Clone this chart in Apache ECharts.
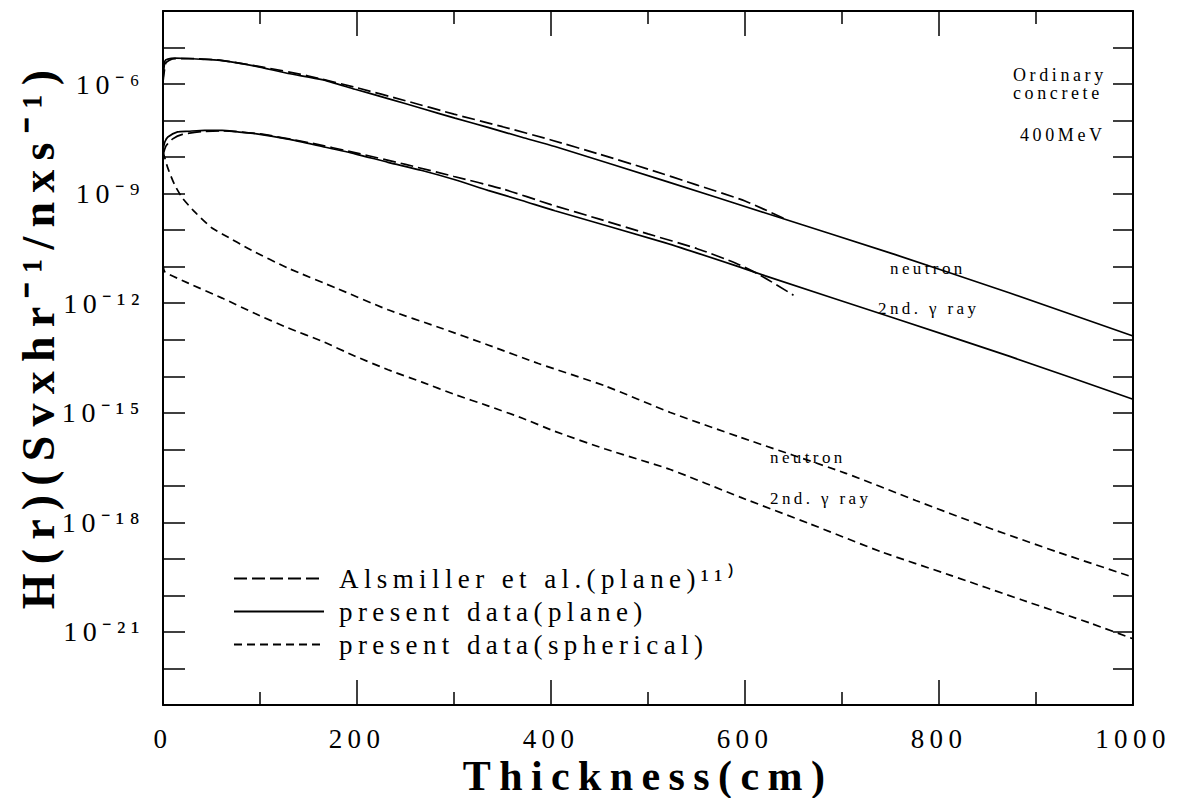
<!DOCTYPE html>
<html>
<head>
<meta charset="utf-8">
<script src="https://cdn.jsdelivr.net/npm/echarts@6/dist/echarts.min.js"></script>
<style>
  html, body { margin: 0; padding: 0; background: #fff; }
  #chart { width: 1185px; height: 798px; }
  /* typewriter-like wide spacing used throughout the figure */
  #chart svg text { letter-spacing: 0.2em; }
</style>
</head>
<body>
<div id="chart"></div>
<script>
// Thickness (cm) tick labels and labelled decades of the dose axis
const thicknessTicks = [0, 200, 400, 600, 800, 1000];
const labelledDecades = [-21, -18, -15, -12, -9, -6];

// Present data, plane geometry: neutron
const planeNeutronX = [0, 2, 5, 12, 26, 43, 61, 95, 129, 164, 198, 232, 267, 301, 335, 370, 404, 518, 621, 755, 873, 1000];
const planeNeutronH = [1.29e-6, 4.27e-6, 4.8e-6, 5.1e-6, 5.0e-6, 4.7e-6, 4.4e-6, 3.1e-6, 1.95e-6, 1.32e-6, 7.2e-7, 4.0e-7, 2.14e-7, 1.17e-7, 6.5e-8, 3.5e-8, 1.95e-8, 2.2e-9, 2.95e-10, 2.14e-11, 1.9e-12, 1.26e-13];

// Present data, plane geometry: secondary gamma ray
const planeGammaX = [0, 2, 5, 15, 26, 43, 61, 77, 95, 129, 164, 198, 232, 267, 301, 335, 370, 404, 518, 597, 621, 755, 873, 1000];
const planeGammaH = [1.58e-8, 2.63e-8, 3.55e-8, 4.9e-8, 5.1e-8, 5.4e-8, 5.4e-8, 4.9e-8, 4.4e-8, 3.1e-8, 1.95e-8, 1.23e-8, 7.2e-9, 4.3e-9, 2.4e-9, 1.23e-9, 6.5e-10, 3.4e-10, 4.5e-11, 9.3e-12, 5.6e-12, 3.8e-13, 3.5e-14, 2.34e-15];

// Alsmiller et al. (plane): neutron
const alsNeutronX = [0, 3, 10, 30, 60, 100, 150, 200, 250, 300, 350, 400, 450, 500, 550, 600, 640];
const alsNeutronH = [1.12e-6, 3.8e-6, 4.9e-6, 5.0e-6, 4.47e-6, 3.0e-6, 1.66e-6, 7.9e-7, 3.5e-7, 1.5e-7, 6.8e-8, 2.95e-8, 1.2e-8, 4.7e-9, 1.74e-9, 6.3e-10, 2.1e-10];

// Alsmiller et al. (plane): secondary gamma ray
const alsGammaX = [0, 3, 10, 20, 40, 60, 100, 150, 200, 250, 300, 350, 400, 450, 500, 550, 590, 615, 650];
const alsGammaH = [1.12e-8, 2.0e-8, 3.16e-8, 4.2e-8, 5.0e-8, 5.25e-8, 4.3e-8, 2.5e-8, 1.29e-8, 6.3e-9, 2.95e-9, 1.35e-9, 5.0e-10, 2.0e-10, 7.9e-11, 3.16e-11, 1.26e-11, 6.0e-12, 1.66e-12];

// Present data, spherical geometry: neutron
const sphNeutronX = [0, 5, 12, 20, 33, 50, 61, 92, 129, 180, 232, 284, 335, 387, 456, 523, 595, 704, 776, 848, 921, 1000];
const sphNeutronH = [1.41e-8, 5.0e-9, 1.74e-9, 7.6e-10, 3.1e-10, 1.17e-10, 7.9e-11, 2.75e-11, 9.1e-12, 2.5e-12, 6.6e-13, 2.2e-13, 7.2e-14, 2.24e-14, 5.4e-15, 1.02e-15, 2.14e-16, 2.2e-17, 3.98e-18, 7.6e-19, 1.58e-19, 3.16e-20];

// Present data, spherical geometry: secondary gamma ray
const sphGammaX = [0, 2, 26, 61, 95, 129, 164, 198, 232, 267, 301, 335, 370, 404, 456, 523, 595, 667, 740, 812, 885, 957, 1000];
const sphGammaH = [1.12e-11, 7.2e-12, 3.55e-12, 1.38e-12, 5.2e-13, 2.1e-13, 9.1e-14, 3.55e-14, 1.51e-14, 6.9e-15, 3.16e-15, 1.55e-15, 7.2e-16, 3.1e-16, 1.02e-16, 2.8e-17, 4.9e-18, 9.1e-19, 1.58e-19, 3.55e-20, 7.6e-21, 1.7e-21, 6.5e-22];

const NAME_ALS = 'Alsmiller et al.(plane)\u00b9\u00b9\u207e';
const NAME_PLANE = 'present data(plane)';
const NAME_SPH = 'present data(spherical)';

const SERIF = "'Liberation Serif', 'Times New Roman', serif";
const SUP = { '-': '\u207b', '0': '\u2070', '1': '\u00b9', '2': '\u00b2', '3': '\u00b3', '4': '\u2074', '5': '\u2075', '6': '\u2076', '7': '\u2077', '8': '\u2078', '9': '\u2079' };
const toSup = s => String(s).split('').map(c => SUP[c]).join('');

const pairs = (xs, ys) => xs.map((x, i) => [x, ys[i]]);

function curve(name, xs, ys, dash) {
  return {
    name: name,
    type: 'line',
    xAxisIndex: 0,
    yAxisIndex: 0,
    data: pairs(xs, ys),
    showSymbol: false,
    symbol: 'none',
    smooth: 0.2,
    itemStyle: { color: '#000', opacity: 0 },
    lineStyle: { color: '#000', width: 1.7, type: dash },
    emphasis: { disabled: true },
    silent: true
  };
}

const frameLine = { show: true, lineStyle: { color: '#000', width: 2 } };

const chart = echarts.init(document.getElementById('chart'), null, { renderer: 'svg' });

chart.setOption({
  animation: false,
  backgroundColor: '#fff',
  grid: { left: 163, right: 52, top: 11, bottom: 93, containLabel: false, outerBoundsMode: 'none' },
  xAxis: [
    {
      type: 'value', position: 'bottom', min: 0, max: 1000, interval: 200,
      axisLine: frameLine,
      axisTick: { show: true, inside: true, length: 25, lineStyle: { color: '#000', width: 1.5 } },
      minorTick: { show: true, splitNumber: 2, length: 13, lineStyle: { color: '#000', width: 1.5 } },
      splitLine: { show: false },
      axisLabel: {
        show: true, margin: 20, color: '#000', fontFamily: SERIF, fontSize: 27, lineHeight: 28,
        formatter: v => thicknessTicks.indexOf(v) >= 0 ? String(v) : ''
      },
      name: 'Thickness(cm)', nameLocation: 'middle', nameGap: 50, nameMoveOverlap: false,
      nameTextStyle: { color: '#000', fontFamily: SERIF, fontSize: 42, fontWeight: 'bold', lineHeight: 42 }
    },
    {
      type: 'value', position: 'top', min: 0, max: 1000, interval: 200,
      axisLine: frameLine,
      axisTick: { show: true, inside: true, length: 25, lineStyle: { color: '#000', width: 1.5 } },
      minorTick: { show: true, splitNumber: 2, length: 13, lineStyle: { color: '#000', width: 1.5 } },
      splitLine: { show: false },
      axisLabel: { show: false }
    }
  ],
  yAxis: [
    {
      // dose-rate scale the curves are drawn on
      type: 'log', logBase: 10, min: 1e-23, max: 1e-4, position: 'left', show: false
    },
    {
      // decade ticks and labels (exponent of ten)
      type: 'value', position: 'left', min: -23, max: -4, interval: 1,
      axisLine: frameLine,
      axisTick: { show: true, inside: true, length: 22, lineStyle: { color: '#000', width: 1.5 } },
      splitLine: { show: false },
      axisLabel: {
        show: true, margin: 18, color: '#000', fontFamily: SERIF, fontSize: 28,
        formatter: v => labelledDecades.indexOf(v) >= 0 ? '10' + toSup(v) : ''
      }
    },
    {
      type: 'value', position: 'right', min: -23, max: -4, interval: 1,
      axisLine: frameLine,
      axisTick: { show: true, inside: true, length: 20, lineStyle: { color: '#000', width: 1.5 } },
      splitLine: { show: false },
      axisLabel: { show: false }
    }
  ],
  legend: {
    orient: 'vertical', left: 228, top: 560,
    itemWidth: 90, itemHeight: 14, itemGap: 6,
    selectedMode: false,
    itemStyle: { opacity: 0 },
    data: [NAME_ALS, NAME_PLANE, NAME_SPH],
    textStyle: { color: '#000', fontFamily: SERIF, fontSize: 27, lineHeight: 27, padding: [0, 0, 0, 10] }
  },
  graphic: [
    {
      type: 'text', x: 38, y: 335, rotation: Math.PI / 2, silent: true,
      style: { text: 'H(r)(Svxhr' + toSup(-1) + '/nxs' + toSup(-1) + ')', fill: '#000',
               font: 'bold 46px ' + SERIF, textAlign: 'center', textVerticalAlign: 'middle' }
    },
    { type: 'text', x: 1013, y: 75, silent: true,
      style: { text: 'Ordinary', fill: '#000', font: '18px ' + SERIF, textVerticalAlign: 'middle' } },
    { type: 'text', x: 1013, y: 93, silent: true,
      style: { text: 'concrete', fill: '#000', font: '18px ' + SERIF, textVerticalAlign: 'middle' } },
    { type: 'text', x: 1020, y: 135, silent: true,
      style: { text: '400MeV', fill: '#000', font: '18px ' + SERIF, textVerticalAlign: 'middle' } },
    { type: 'text', x: 890, y: 268, silent: true,
      style: { text: 'neutron', fill: '#000', font: '17px ' + SERIF, textVerticalAlign: 'middle' } },
    { type: 'text', x: 878, y: 308, silent: true,
      style: { text: '2nd. \u03b3 ray', fill: '#000', font: '17px ' + SERIF, textVerticalAlign: 'middle' } },
    { type: 'text', x: 770, y: 457, silent: true,
      style: { text: 'neutron', fill: '#000', font: '17px ' + SERIF, textVerticalAlign: 'middle' } },
    { type: 'text', x: 770, y: 498, silent: true,
      style: { text: '2nd. \u03b3 ray', fill: '#000', font: '17px ' + SERIF, textVerticalAlign: 'middle' } }
  ],
  series: [
    curve(NAME_ALS, alsNeutronX, alsNeutronH, [13, 5]),
    curve(NAME_PLANE, planeNeutronX, planeNeutronH, 'solid'),
    curve(NAME_SPH, sphNeutronX, sphNeutronH, [8, 5]),
    curve(NAME_ALS, alsGammaX, alsGammaH, [13, 5]),
    curve(NAME_PLANE, planeGammaX, planeGammaH, 'solid'),
    curve(NAME_SPH, sphGammaX, sphGammaH, [8, 5])
  ]
});
</script>
</body>
</html>
